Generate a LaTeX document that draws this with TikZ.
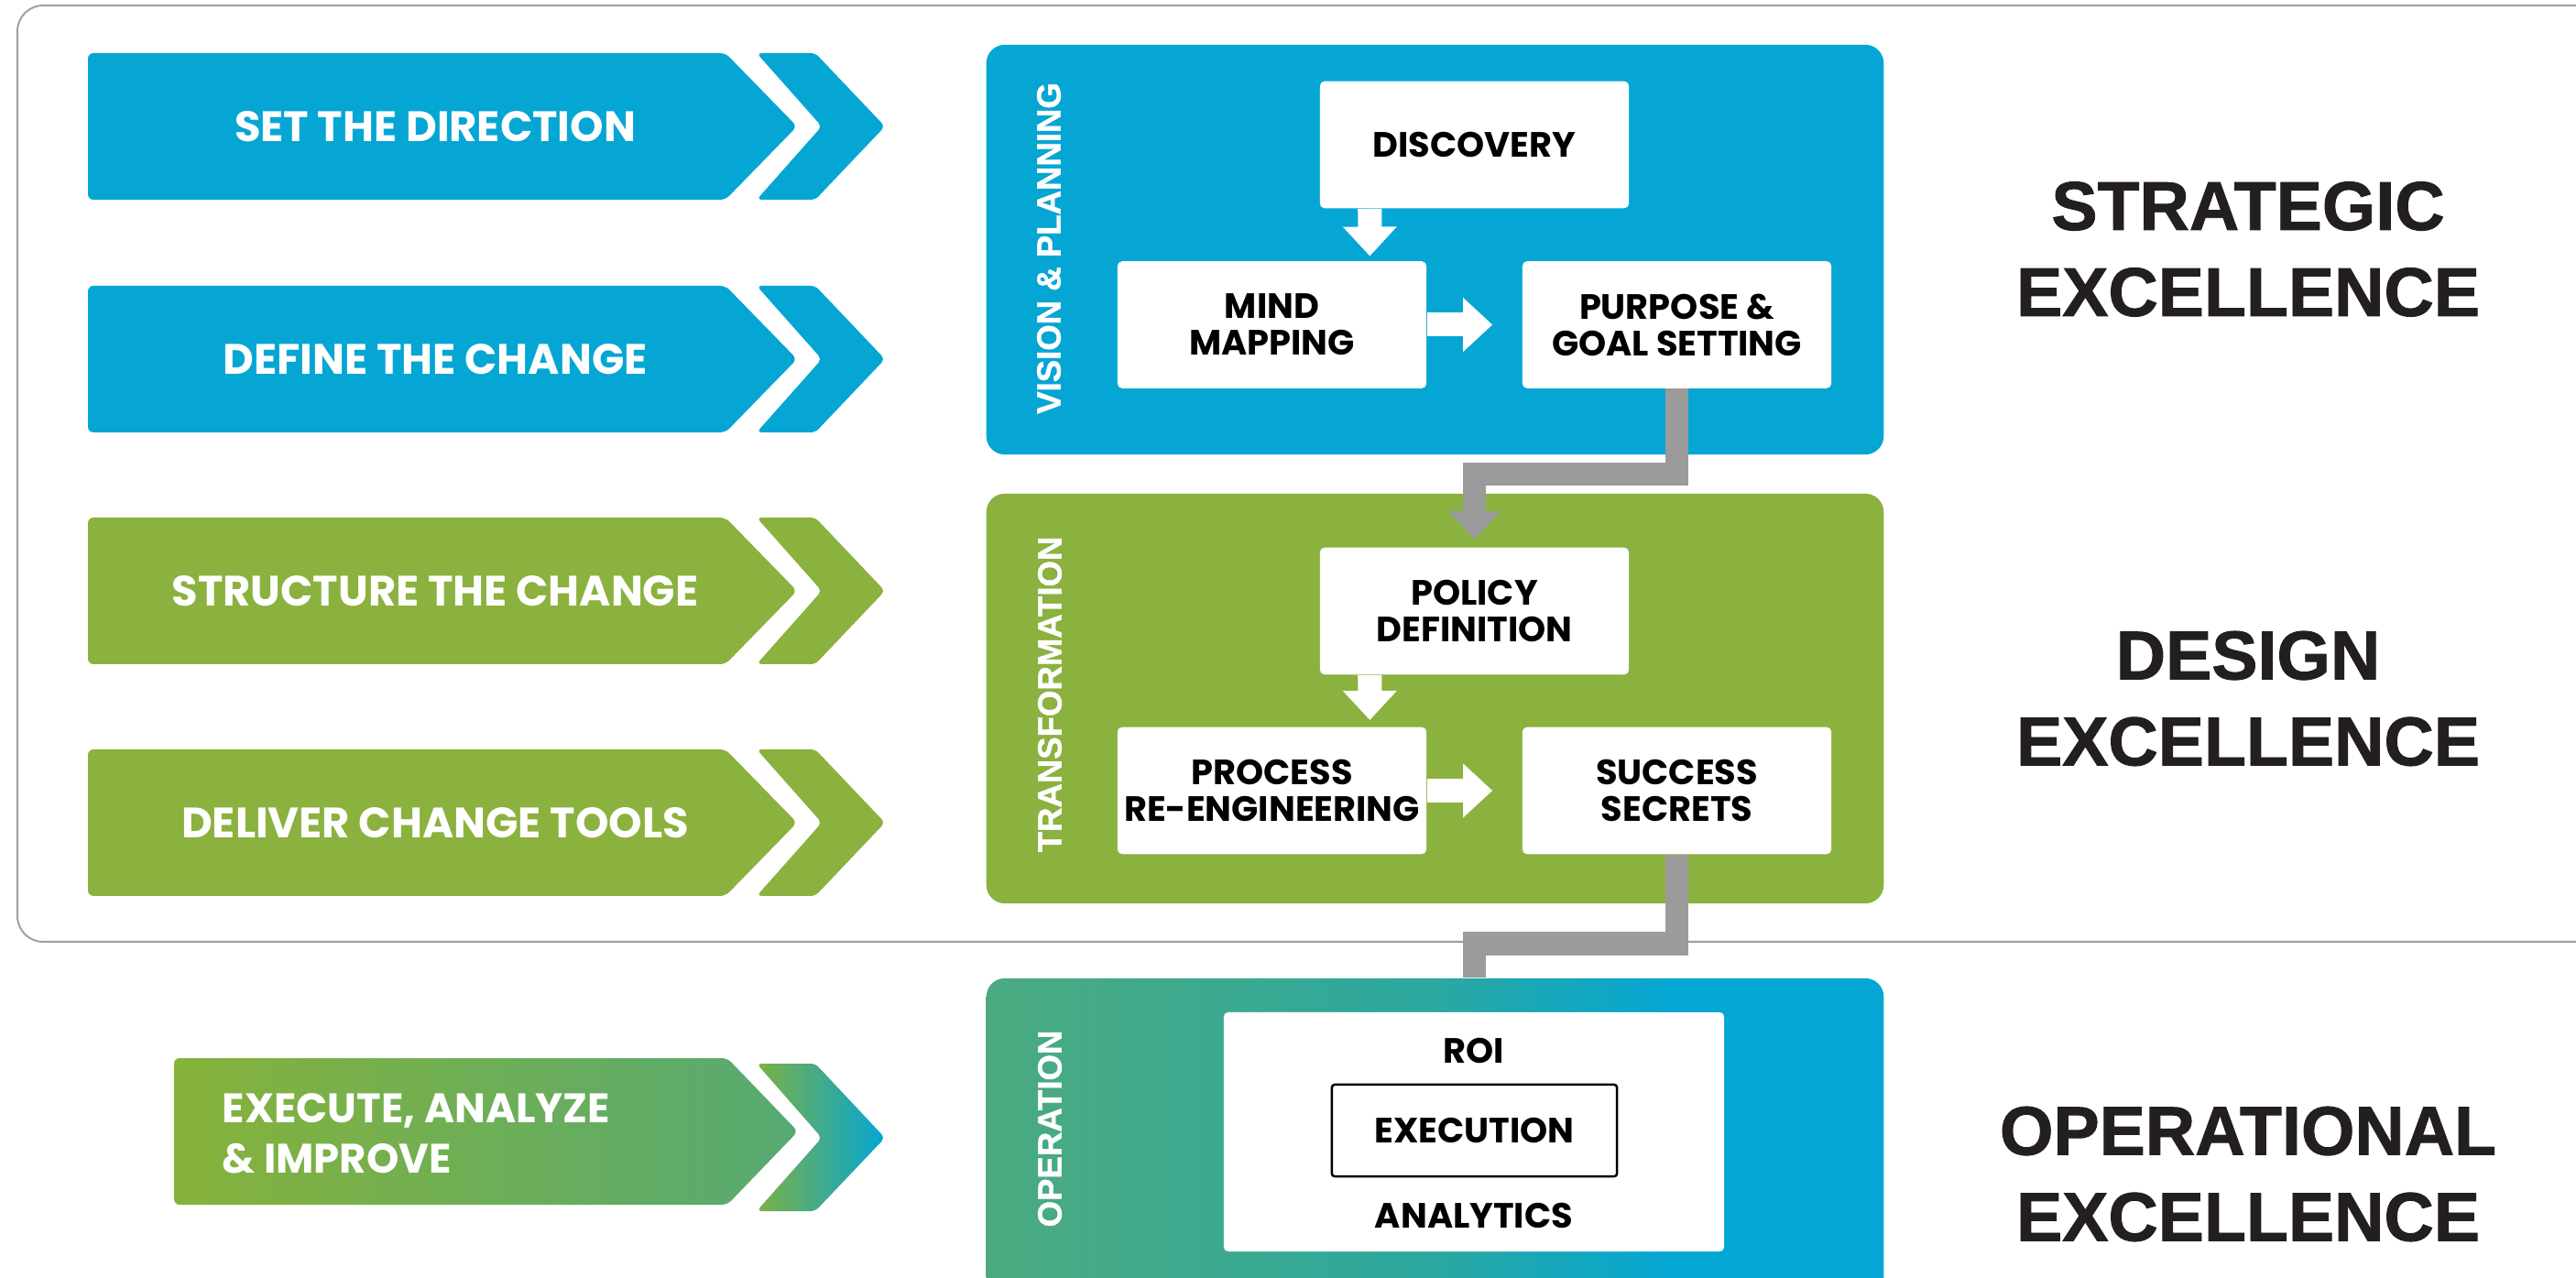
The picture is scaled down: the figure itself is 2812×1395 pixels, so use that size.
\documentclass[tikz,border=0pt]{standalone}
\usepackage{fontspec}
\setmainfont{Liberation Sans}
\newfontfamily\popf{Poppins}
\newfontfamily\sidef{Liberation Sans}[FakeBold=1.2]
\usetikzlibrary{arrows.meta,calc}
\definecolor{vblue}{HTML}{06A6D4}
\definecolor{vgreen}{HTML}{8BB13F}
\definecolor{cgray}{HTML}{9B9B9B}
\definecolor{bgray}{HTML}{A0A0A0}
\definecolor{opL}{HTML}{4BAA80}
\definecolor{opMa}{HTML}{3BA98F}
\definecolor{opM}{HTML}{2BA8A0}
\definecolor{opR}{HTML}{04A6D3}
\definecolor{exL}{HTML}{86B23A}
\definecolor{exR}{HTML}{56AA73}
\definecolor{chL}{HTML}{7DB044}
\definecolor{chM}{HTML}{4BAA82}
\definecolor{txt}{HTML}{231F20}
\pgfdeclarehorizontalshading{opshade}{100bp}{color(0bp)=(opL); color(25bp)=(opL); color(38bp)=(opMa); color(50bp)=(opM); color(63bp)=(opR); color(100bp)=(opR)}
\newcommand\chevarrow[4]{%
  \fill[#2, rounded corners=0.06cm] (96,#1) -- (792,#1) -- (870,#1+80) -- (792,#1+160) -- (96,#1+160) -- cycle;
  \fill[#2, rounded corners=0.05cm] (826,#1) -- (890,#1) -- (966,#1+80) -- (890,#1+160) -- (826,#1+160) -- (897,#1+80) -- cycle;
  \node[arrtext] (#3) at (475,#1+80) {#4};
}
\begin{document}
\begin{tikzpicture}[x=0.01cm,y=-0.01cm,
  wbox/.style={fill=white, rounded corners=0.05cm, minimum width=3.37cm, minimum height=1.385cm, inner sep=0pt, align=center, text=black, font=\popf\bfseries\fontsize{10.9}{11.4}\selectfont},
  btext/.style={text=black, inner sep=0pt, font=\popf\bfseries\fontsize{10.9}{11.4}\selectfont},
  side/.style={align=center, text=txt, inner sep=0pt, font=\sidef\bfseries\fontsize{21.4}{26.7}\selectfont},
  arrtext/.style={text=white, inner sep=0pt, font=\popf\bfseries\fontsize{13.2}{15.6}\selectfont},
  vlabel/.style={rotate=90, text=white, inner sep=0pt, font=\sidef\bfseries\fontsize{10.4}{12}\selectfont},
  panel/.style={rounded corners=0.2cm, inner sep=0pt, minimum width=9.79cm},
  gconn/.style={draw=cgray, line width=0.25cm, line join=miter},
  warrow/.style={draw=white, line width=0.26cm, -{Triangle[width=0.57cm,length=0.32cm]}}
]
\clip (0,0) rectangle (2812,1395);
\fill[white] (0,0) rectangle (2812,1395);
% outer frame
\draw[bgray, line width=0.02cm, rounded corners=0.28cm] (19,6) rectangle (2850,1028);

% left arrows
\chevarrow{58}{vblue}{a1}{SET THE DIRECTION}
\chevarrow{312}{vblue}{a2}{DEFINE THE CHANGE}
\chevarrow{565}{vgreen}{a3}{STRUCTURE THE CHANGE}
\chevarrow{818}{vgreen}{a4}{DELIVER CHANGE TOOLS}
% execute arrow
\shade[left color=exL, right color=exR, rounded corners=0.06cm] (190,1155) -- (794,1155) -- (871,1235) -- (794,1315) -- (190,1315) -- cycle;
\shade[left color=chL, middle color=chM, right color=opR, rounded corners=0.05cm] (826,1161) -- (890,1161) -- (966,1242) -- (890,1322) -- (826,1322) -- (897,1242) -- cycle;
\node[arrtext, anchor=west, align=left, font=\popf\bfseries\fontsize{12.8}{15.6}\selectfont] (a5) at (242,1237) {EXECUTE, ANALYZE\\\& IMPROVE};

% panels
\node[panel, fill=vblue, minimum height=4.47cm] (vp) at (1566.5,272.5) {};
\node[panel, fill=vgreen, minimum height=4.47cm] (tp) at (1566.5,762.5) {};
\node[panel, shade, shading=opshade, minimum height=4.0cm] (op) at (1566.5,1268) {};

\node[vlabel] (vpl) at (1145,271) {VISION \& PLANNING};
\node[vlabel] (tpl) at (1146,758) {TRANSFORMATION};
\node[vlabel] (opl) at (1146,1232) {OPERATION};

% boxes
\node[wbox] (discovery) at (1609.5,158) {DISCOVERY};
\node[wbox] (mind) at (1388.5,354.5) {MIND\\MAPPING};
\node[wbox] (purpose) at (1830.5,354.5) {PURPOSE \&\\GOAL SETTING};
\node[wbox] (policy) at (1609.5,667) {POLICY\\DEFINITION};
\node[wbox] (process) at (1388.5,863) {PROCESS\\RE-ENGINEERING};
\node[wbox] (success) at (1830.5,863) {SUCCESS\\SECRETS};
\node[fill=white, rounded corners=0.05cm, minimum width=5.46cm, minimum height=2.61cm, inner sep=0pt] (opbox) at (1609,1235.5) {};
\node[draw=black, line width=0.025cm, rounded corners=0.03cm, fill=white, minimum width=3.11cm, minimum height=1.0cm, inner sep=0pt, btext] (exec) at (1609.5,1234) {EXECUTION};
\node[btext] (roi) at (1609,1147) {ROI};
\node[btext] (analytics) at (1609,1327) {ANALYTICS};

% white arrows
\draw[warrow, shorten >=0.05cm] ([xshift=0.55cm]discovery.south west) -- ([xshift=2.76cm]mind.north west);
\draw[warrow, shorten >=0.32cm] (mind.east) -- (purpose.west);
\draw[warrow, shorten >=0.07cm] ([xshift=0.55cm]policy.south west) -- ([xshift=2.76cm]process.north west);
\draw[warrow, shorten >=0.32cm] (process.east) -- (success.west);

% gray connectors
\draw[gconn, -{Triangle[width=0.55cm,length=0.31cm]}, shorten >=0.08cm] (purpose.south) -- ++(0,93) -| (policy.north);
\draw[gconn] (success.south) -- ++(0,97) -| (opbox.north |- op.north);

% side titles
\node[side] (st) at (2454,272) {STRATEGIC\\EXCELLENCE};
\node[side] (de) at (2454,762.5) {DESIGN\\EXCELLENCE};
\node[side] (oe) at (2454,1281.5) {OPERATIONAL\\EXCELLENCE};
\end{tikzpicture}
\end{document}
